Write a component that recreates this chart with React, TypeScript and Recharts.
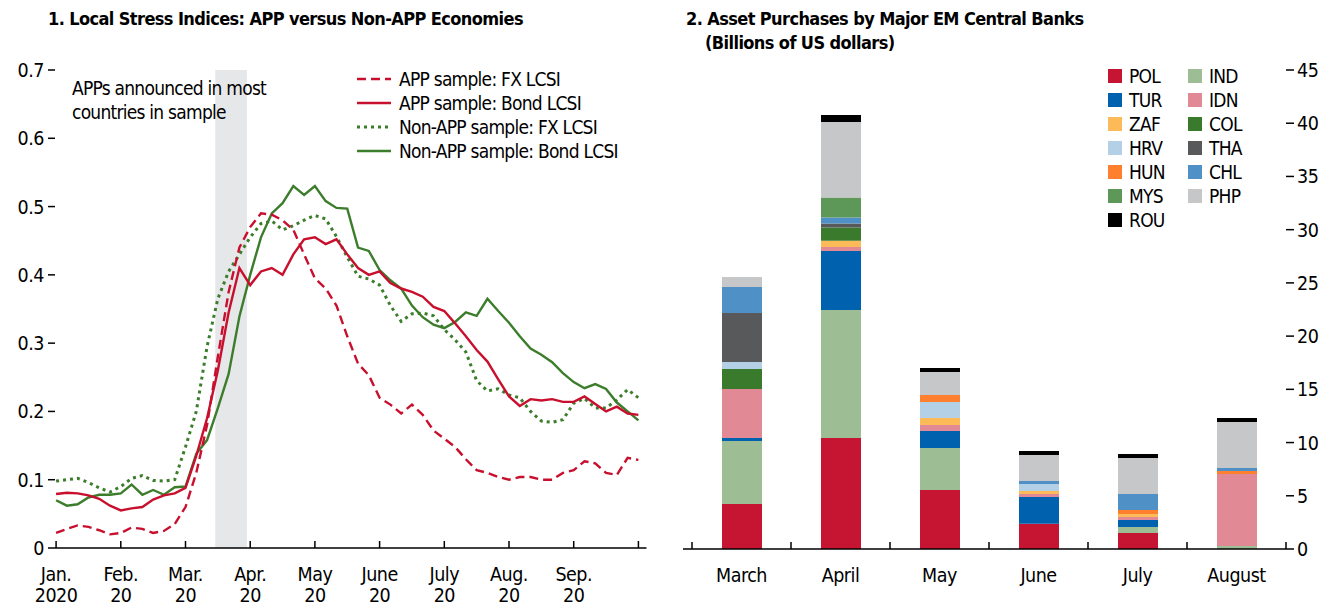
import React from "react";
import { Bar, BarChart, Line, LineChart, ReferenceArea, XAxis, YAxis } from "recharts";

// Two-panel figure: local stress indices (lines) and EM central bank asset purchases (stacked bars).
const FONT = '"Liberation Sans Narrow", "Arial Narrow", "DejaVu Sans Condensed", sans-serif';
const INK = "#000";
const RED = "#C8102E";
const GREEN = "#3B7D2B";
const SHADE = "#E6E7E9";

// ---- Panel 1: x is months since Jan. 1 2020, read six times a month ----
const samplesPerMonth = 6;
const monthLabels = ["Jan.", "Feb.", "Mar.", "Apr.", "May", "June", "July", "Aug.", "Sep.", ""];
const yearLabels = ["2020", "20", "20", "20", "20", "20", "20", "20", "20", ""];
const monthTicks = [0, 1, 2, 3, 4, 5, 6, 7, 8, 9];
const stressTicks = [0, 0.1, 0.2, 0.3, 0.4, 0.5, 0.6, 0.7];
const shadeFrom = 2.46; // APPs announced (mid to end of March)
const shadeTo = 2.95;

const appFx = [
  0.022, 0.028, 0.033, 0.031, 0.026, 0.02, 0.022, 0.03, 0.028, 0.022,
  0.025, 0.035, 0.06, 0.11, 0.18, 0.28, 0.375, 0.44, 0.47, 0.49,
  0.488, 0.48, 0.466, 0.43, 0.395, 0.38, 0.355, 0.31, 0.27, 0.253,
  0.22, 0.21, 0.197, 0.21, 0.195, 0.172, 0.16, 0.148, 0.13, 0.114,
  0.11, 0.104, 0.1, 0.104, 0.104, 0.1, 0.1, 0.11, 0.114, 0.127,
  0.124, 0.11, 0.107, 0.132, 0.129,
];
const appBond = [
  0.079, 0.081, 0.08, 0.077, 0.072, 0.062, 0.055, 0.058, 0.06, 0.071,
  0.077, 0.08, 0.088, 0.135, 0.19, 0.26, 0.345, 0.41, 0.385, 0.405,
  0.41, 0.4, 0.43, 0.452, 0.455, 0.445, 0.452, 0.43, 0.41, 0.4,
  0.405, 0.388, 0.38, 0.375, 0.368, 0.353, 0.347, 0.329, 0.31, 0.29,
  0.273, 0.247, 0.222, 0.208, 0.218, 0.216, 0.218, 0.214, 0.214, 0.222,
  0.211, 0.2, 0.207, 0.197, 0.195,
];
const nonAppFx = [
  0.098, 0.1, 0.102, 0.096, 0.088, 0.082, 0.09, 0.102, 0.106, 0.099,
  0.098, 0.1, 0.148, 0.2, 0.295, 0.365, 0.405, 0.43, 0.455, 0.475,
  0.479, 0.466, 0.472, 0.48, 0.487, 0.482, 0.456, 0.426, 0.398, 0.394,
  0.385, 0.355, 0.332, 0.343, 0.344, 0.34, 0.32, 0.305, 0.287, 0.245,
  0.23, 0.233, 0.224, 0.22, 0.2, 0.186, 0.184, 0.188, 0.212, 0.219,
  0.205, 0.205, 0.217, 0.232, 0.22,
];
const nonAppBond = [
  0.07, 0.062, 0.064, 0.074, 0.078, 0.078, 0.08, 0.093, 0.078, 0.085,
  0.078, 0.089, 0.09, 0.138, 0.158, 0.205, 0.255, 0.339, 0.4, 0.455,
  0.49, 0.505, 0.53, 0.517, 0.53, 0.508, 0.498, 0.497, 0.44, 0.435,
  0.407, 0.392, 0.38, 0.355, 0.338, 0.327, 0.322, 0.331, 0.345, 0.34,
  0.365, 0.347, 0.33, 0.31, 0.292, 0.283, 0.272, 0.256, 0.243, 0.234,
  0.24, 0.233, 0.213, 0.2, 0.187,
];

const stressData = appFx.map((v, i) => ({
  t: i / samplesPerMonth,
  appFx: v,
  appBond: appBond[i],
  nonAppFx: nonAppFx[i],
  nonAppBond: nonAppBond[i],
}));

const lineLegend = [
  { label: "APP sample: FX LCSI", color: RED, dash: "9 5", width: 2.6 },
  { label: "APP sample: Bond LCSI", color: RED, dash: undefined, width: 2.6 },
  { label: "Non-APP sample: FX LCSI", color: GREEN, dash: "3 4", width: 3 },
  { label: "Non-APP sample: Bond LCSI", color: GREEN, dash: undefined, width: 2.6 },
];

// ---- Panel 2: billions of US dollars per month ----
const months = ["March", "April", "May", "June", "July", "August"];
const purchaseTicks = [0, 5, 10, 15, 20, 25, 30, 35, 40, 45];
const POL = [4.23, 10.43, 5.55, 2.38, 1.5, 0];
const IND = [5.92, 12.03, 3.94, 0, 0.56, 0.28];
const TUR = [0.28, 5.54, 1.6, 2.51, 0.66, 0];
const IDN = [4.6, 0.38, 0.56, 0.28, 0.28, 6.77];
const ZAF = [0, 0.57, 0.65, 0.28, 0.28, 0];
const COL = [1.88, 1.25, 0, 0, 0, 0];
const HRV = [0.66, 0, 1.5, 0.66, 0, 0];
const THA = [4.6, 0.37, 0, 0, 0, 0];
const HUN = [0, 0, 0.66, 0, 0.38, 0.28];
const CHL = [2.44, 0.57, 0, 0.28, 1.5, 0.28];
const MYS = [0, 1.88, 0, 0, 0, 0];
const PHP = [0.94, 7.1, 2.17, 2.44, 3.38, 4.32];
const ROU = [0, 0.66, 0.37, 0.37, 0.38, 0.37];

const countries = [
  { key: "POL", values: POL, color: "#C51532" },
  { key: "IND", values: IND, color: "#9DBD95" },
  { key: "TUR", values: TUR, color: "#0061AF" },
  { key: "IDN", values: IDN, color: "#E18A96" },
  { key: "ZAF", values: ZAF, color: "#FDBA58" },
  { key: "COL", values: COL, color: "#3A7A2D" },
  { key: "HRV", values: HRV, color: "#B4D0E7" },
  { key: "THA", values: THA, color: "#58595B" },
  { key: "HUN", values: HUN, color: "#FE7F2D" },
  { key: "CHL", values: CHL, color: "#4F91C6" },
  { key: "MYS", values: MYS, color: "#5E9858" },
  { key: "PHP", values: PHP, color: "#C6C7C9" },
  { key: "ROU", values: ROU, color: "#000000" },
];
const legendCol1 = ["POL", "TUR", "ZAF", "HRV", "HUN", "MYS", "ROU"];
const legendCol2 = ["IND", "IDN", "COL", "THA", "CHL", "PHP"];

const purchaseData = months.map((m, i) => {
  const row: Record<string, string | number> = { month: m };
  countries.forEach((c) => (row[c.key] = c.values[i]));
  return row;
});

const BAND = 99; // width of one month slot in panel 2

const txt = { fontFamily: FONT, fontSize: 19.5, fill: INK, letterSpacing: -0.5 } as const;

function MonthTick({ x, y, payload }: any) {
  const i = payload.value as number;
  return (
    <g>
      <line x1={x} x2={x} y1={y} y2={y - 7} stroke={INK} strokeWidth={1.5} />
      <text x={x} y={y + 33} textAnchor="middle" {...txt}>{monthLabels[i]}</text>
      <text x={x} y={y + 54} textAnchor="middle" {...txt}>{yearLabels[i]}</text>
    </g>
  );
}

function StressLeftTick({ x, y, payload }: any) {
  const v = payload.value as number;
  return (
    <g>
      {v > 0 && <line x1={x} x2={x + 7} y1={y} y2={y} stroke={INK} strokeWidth={1.5} />}
      <text x={x - 4} y={y + 7} textAnchor="end" {...txt}>{v === 0 ? "0" : v.toFixed(1)}</text>
    </g>
  );
}

function InnerRightTick({ x, y }: any) {
  return <line x1={x - 8} x2={x} y1={y} y2={y} stroke={INK} strokeWidth={1.5} />;
}

function InnerLeftTick({ x, y, payload }: any) {
  if (payload.value === 0) return <g />;
  return <line x1={x} x2={x + 8} y1={y} y2={y} stroke={INK} strokeWidth={1.5} />;
}

function PurchaseRightTick({ x, y, payload }: any) {
  return (
    <g>
      <line x1={x} x2={x + 8} y1={y} y2={y} stroke={INK} strokeWidth={1.5} />
      <text x={x + 11} y={y + 7} textAnchor="start" {...txt}>{payload.value}</text>
    </g>
  );
}

function MonthCategoryTick({ x, y, payload, index }: any) {
  const last = index === months.length - 1;
  return (
    <g>
      <line x1={x - BAND / 2} x2={x - BAND / 2} y1={y} y2={y - 7} stroke={INK} strokeWidth={1.5} />
      {last && <line x1={x + BAND / 2} x2={x + BAND / 2} y1={y} y2={y - 7} stroke={INK} strokeWidth={1.5} />}
      <text x={x} y={y + 33} textAnchor="middle" {...txt}>{payload.value}</text>
    </g>
  );
}

const titleStyle: React.CSSProperties = {
  position: "absolute",
  fontFamily: FONT,
  fontWeight: 700,
  fontSize: 18,
  lineHeight: "20px",
  letterSpacing: -0.6,
  color: INK,
  whiteSpace: "nowrap",
};

const bodyText: React.CSSProperties = { fontSize: 19, letterSpacing: -0.75, color: INK, whiteSpace: "nowrap" };

export default function App() {
  return (
    <div style={{ position: "absolute", left: 0, top: 0, width: 1332, height: 607, background: "#fff", fontFamily: FONT }}>
      <div style={{ ...titleStyle, left: 48, top: 9 }}>1. Local Stress Indices: APP versus Non-APP Economies</div>
      <div style={{ ...titleStyle, left: 686, top: 9 }}>2. Asset Purchases by Major EM Central Banks</div>
      <div style={{ ...titleStyle, left: 705, top: 33 }}>(Billions of US dollars)</div>

      <div style={{ position: "absolute", left: 0, top: 0 }}>
        <LineChart width={660} height={607} data={stressData} margin={{ top: 70, right: 3.5, bottom: 19, left: 38 }}>
          <XAxis
            dataKey="t"
            type="number"
            domain={[-0.125, 9.125]}
            ticks={monthTicks}
            interval={0}
            height={40}
            tickSize={0}
            tickMargin={0}
            tickLine={false}
            axisLine={{ stroke: INK, strokeWidth: 1.5 }}
            tick={(p: any) => <MonthTick {...p} />}
          />
          <YAxis
            yAxisId="l"
            domain={[0, 0.7]}
            ticks={stressTicks}
            interval={0}
            width={10}
            tickSize={0}
            tickMargin={0}
            tickLine={false}
            axisLine={false}
            tick={(p: any) => <StressLeftTick {...p} />}
          />
          <YAxis
            yAxisId="r"
            orientation="right"
            domain={[0, 0.7]}
            ticks={stressTicks.slice(1)}
            interval={0}
            width={10}
            tickSize={0}
            tickMargin={0}
            tickLine={false}
            axisLine={false}
            tick={(p: any) => <InnerRightTick {...p} />}
          />
          <ReferenceArea yAxisId="l" x1={shadeFrom} x2={shadeTo} y1={0} y2={0.7} fill={SHADE} fillOpacity={1} stroke="none" ifOverflow="visible" />
          <Line yAxisId="l" type="linear" dataKey="nonAppFx" stroke={GREEN} strokeWidth={3} strokeDasharray="3 4" dot={false} isAnimationActive={false} />
          <Line yAxisId="l" type="linear" dataKey="nonAppBond" stroke={GREEN} strokeWidth={2.4} dot={false} isAnimationActive={false} />
          <Line yAxisId="l" type="linear" dataKey="appBond" stroke={RED} strokeWidth={2.4} dot={false} isAnimationActive={false} />
          <Line yAxisId="l" type="linear" dataKey="appFx" stroke={RED} strokeWidth={2.4} strokeDasharray="9 5" dot={false} isAnimationActive={false} />
        </LineChart>
      </div>

      <div style={{ ...bodyText, position: "absolute", left: 72, top: 76, lineHeight: "24px" }}>
        APPs announced in most
        <br />
        countries in sample
      </div>

      <div style={{ ...bodyText, position: "absolute", left: 357, top: 67 }}>
        {lineLegend.map((item) => (
          <div key={item.label} style={{ display: "flex", alignItems: "center", height: 24 }}>
            <svg width={34} height={24}>
              <line x1={0} x2={34} y1={12} y2={12} stroke={item.color} strokeWidth={item.width} strokeDasharray={item.dash} />
            </svg>
            <span style={{ marginLeft: 8 }}>{item.label}</span>
          </div>
        ))}
      </div>

      <div style={{ position: "absolute", left: 660, top: 0 }}>
        <BarChart width={672} height={607} data={purchaseData} margin={{ top: 70, right: 36, bottom: 18, left: 13 }}>
          <XAxis
            dataKey="month"
            padding={{ left: 9, right: 0 }}
            interval={0}
            height={40}
            tickSize={0}
            tickMargin={0}
            tickLine={false}
            axisLine={{ stroke: INK, strokeWidth: 1.5 }}
            tick={(p: any) => <MonthCategoryTick {...p} />}
          />
          <YAxis
            yAxisId="l"
            domain={[0, 45]}
            ticks={purchaseTicks}
            interval={0}
            width={10}
            tickSize={0}
            tickMargin={0}
            tickLine={false}
            axisLine={false}
            tick={(p: any) => <InnerLeftTick {...p} />}
          />
          <YAxis
            yAxisId="r"
            orientation="right"
            domain={[0, 45]}
            ticks={purchaseTicks}
            interval={0}
            width={10}
            tickSize={0}
            tickMargin={0}
            tickLine={false}
            axisLine={false}
            tick={(p: any) => <PurchaseRightTick {...p} />}
          />
          {countries.map((c) => (
            <Bar key={c.key} yAxisId="r" dataKey={c.key} stackId="a" fill={c.color} barSize={40} isAnimationActive={false} />
          ))}
        </BarChart>
      </div>

      {[legendCol1, legendCol2].map((col, ci) => (
        <div key={ci} style={{ ...bodyText, position: "absolute", left: ci === 0 ? 1108 : 1188, top: 64 }}>
          {col.map((k) => {
            const c = countries.find((d) => d.key === k)!;
            return (
              <div key={k} style={{ display: "flex", alignItems: "center", height: 24 }}>
                <span style={{ display: "inline-block", width: 14, height: 14, background: c.color }} />
                <span style={{ marginLeft: 7 }}>{k}</span>
              </div>
            );
          })}
        </div>
      ))}
    </div>
  );
}
